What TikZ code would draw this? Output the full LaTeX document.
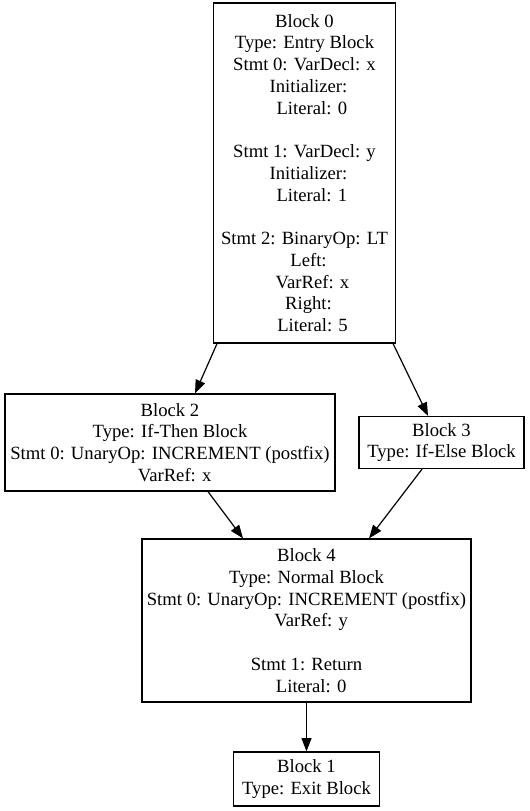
\documentclass[tikz,border=0pt]{standalone}
\usepackage{fontspec}
\setmainfont{Liberation Serif}
\usetikzlibrary{arrows.meta}

\begin{document}
\begin{tikzpicture}[x=0.75pt,y=-0.75pt]
      \useasboundingbox (0,0) rectangle (530,811);

      \begin{scope}[every node/.style={draw,line width=0.9pt,align=center,inner sep=0pt,
                    font=\fontsize{14}{16.3}\selectfont}]
        \node[minimum width=137pt,minimum height=255pt] (0) at (304.5,173) {Block 0\\Type: Entry Block\\Stmt 0: VarDecl: x\\
          \hspace*{6pt}Initializer:\\\hspace*{11pt}Literal: 0\\ \\Stmt 1: VarDecl: y\\
          \hspace*{6pt}Initializer:\\\hspace*{11pt}Literal: 1\\ \\Stmt 2: BinaryOp: LT\\
          \hspace*{6pt}Left:\\\hspace*{12pt}VarRef: x\\\hspace*{6pt}Right:\\\hspace*{12pt}Literal: 5};
        \node[minimum width=247.5pt,minimum height=72.75pt] (2) at (170,442.5) {Block 2\\Type: If-Then Block\\
          Stmt 0: UnaryOp: INCREMENT (postfix)\\\hspace*{7pt}VarRef: x};
        \node[minimum width=123.75pt,minimum height=39pt] (3) at (441.5,442.5) {Block 3\\Type: If-Else Block};
        \node[minimum width=246.75pt,minimum height=122.25pt] (4) at (306.5,620.5) {Block 4\\Type: Normal Block\\
          Stmt 0: UnaryOp: INCREMENT (postfix)\\\hspace*{7pt}VarRef: y\\ \\Stmt 1: Return\\\hspace*{7pt}Literal: 0};
        \node[minimum width=109.5pt,minimum height=40.5pt] (1) at (306.5,779) {Block 1\\Type: Exit Block};
      \end{scope}

      \begin{scope}[every edge/.style={draw,line width=0.9pt,-{Triangle[length=10pt,width=7.5pt]}}]
        \path ([xshift=-65.6pt]0.south) edge ([xshift=18.75pt]2.north);
        \path ([xshift=66.4pt]0.south)  edge ([xshift=-10.1pt]3.north);
        \path ([xshift=28.5pt]2.south)  edge ([xshift=-47.6pt]4.north);
        \path ([xshift=-14.6pt]3.south) edge ([xshift=46.9pt]4.north);
        \path (4) edge (1);
      \end{scope}

    \end{tikzpicture}
\end{document}
